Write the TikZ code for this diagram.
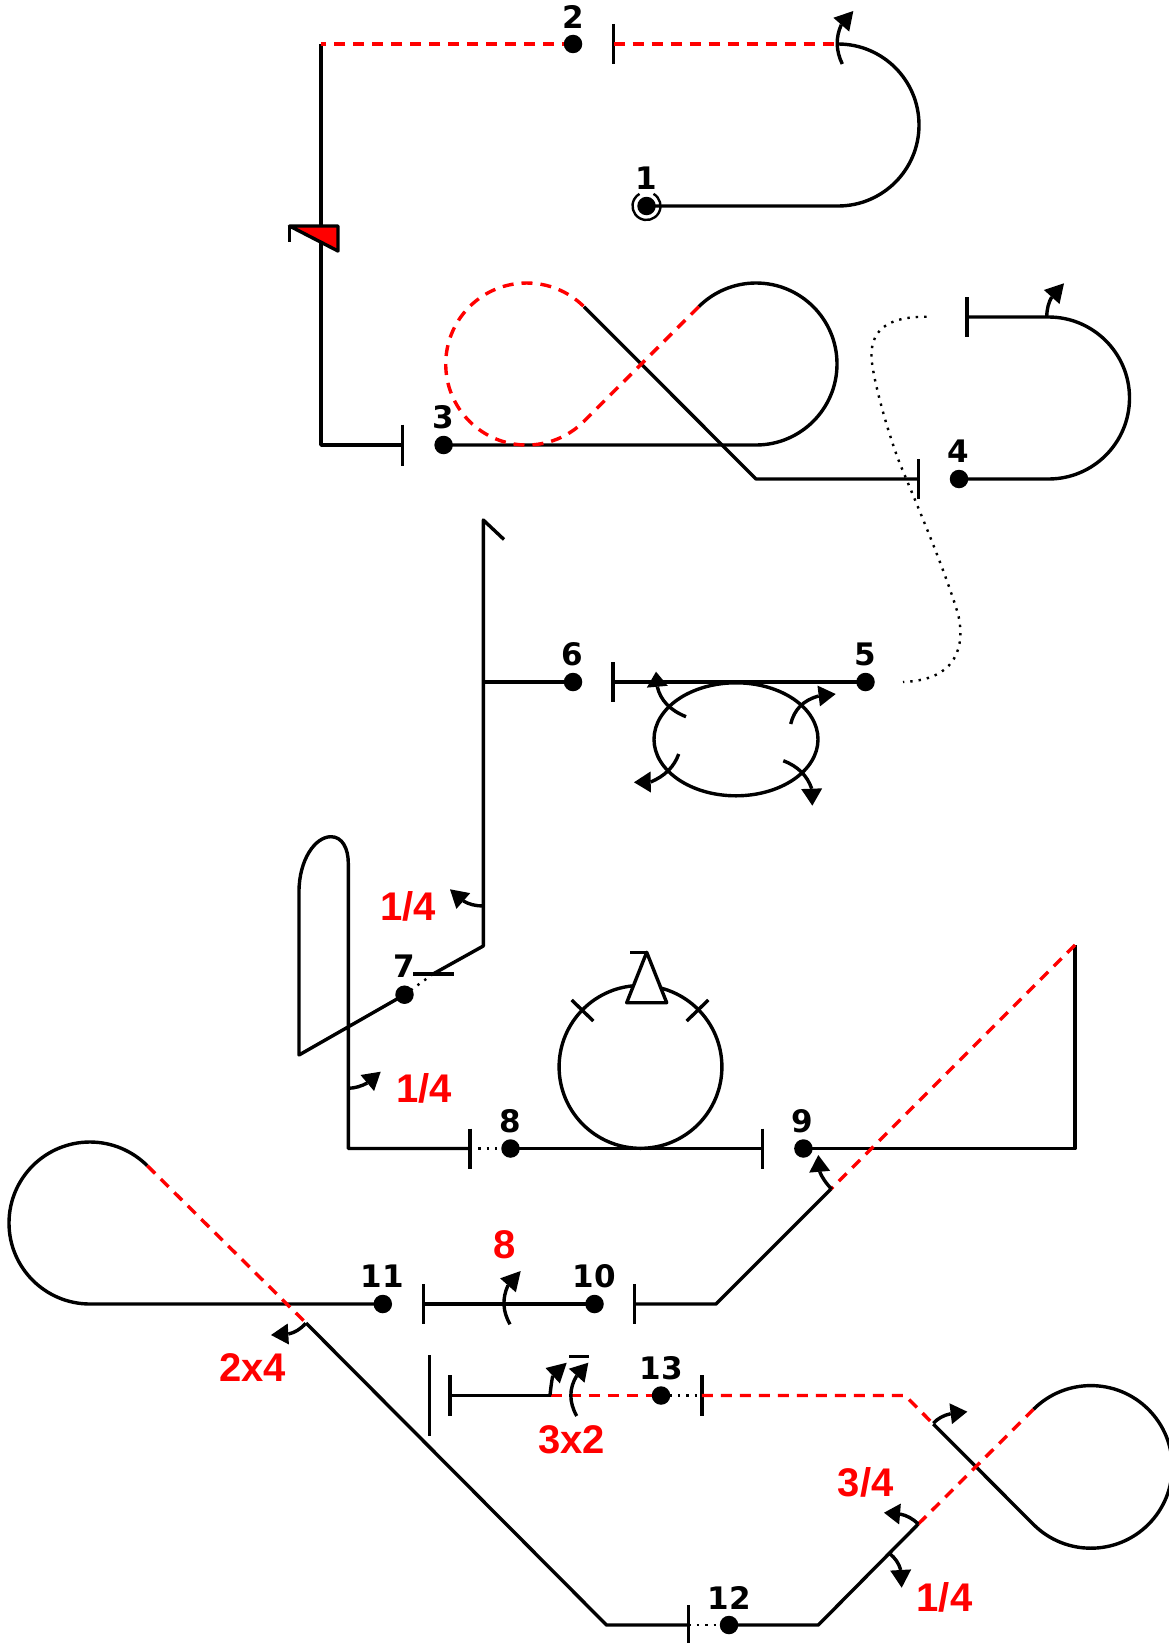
\documentclass[tikz,border=0pt]{standalone}
\usepackage{fontspec}
\setmainfont{Liberation Sans}
\newfontfamily\numfont{DejaVu Sans}
\usetikzlibrary{calc}
\definecolor{myred}{RGB}{255,0,0}
\tikzset{
  line/.style={line width=3.4pt,black,line cap=butt,line join=round},
  reddash/.style={line width=3.4pt,myred,dash pattern=on 11pt off 8pt},
  dots/.style={line width=2.4pt,black,dash pattern=on 2.4pt off 6pt},
  pt/.style={circle,fill=black,draw=none,minimum size=18.5pt,inner sep=0pt},
  num/.style={inner sep=0pt,font=\numfont\bfseries\fontsize{31}{31}\selectfont},
  redlab/.style={inner sep=0pt,text=myred,font=\bfseries\fontsize{40}{40}\selectfont},
}
% start, control, base of the head, tip
\newcommand{\qarr}[4]{%
  \draw[line] #1 .. controls ($#1!.667!#2$) and ($#3!.667!#2$) .. #3;
  \fill[black] #4 -- ($#3!10.5pt!90:#4$) -- ($#3!10.5pt!-90:#4$) -- cycle;}
\begin{document}
\begin{tikzpicture}[x=1pt,y=1pt,yscale=-1]
\useasboundingbox (0,0) rectangle (1168,1643);
% points
\coordinate (p1c) at (646.5,206);
\coordinate (p2c) at (573,44);
\coordinate (p3c) at (443.6,445);
\coordinate (p4c) at (959,479);
\coordinate (p5c) at (865.5,682);
\coordinate (p6c) at (573,682);
\coordinate (p7c) at (404.5,994.7);
\coordinate (p8c) at (510.5,1148.5);
\coordinate (p9c) at (803.4,1148.5);
\coordinate (p10c) at (594.5,1304);
\coordinate (p11c) at (382.8,1304);
\coordinate (p12c) at (729,1625);
\coordinate (p13c) at (661,1395.5);
% corners
\coordinate (a1) at (838,206);
\coordinate (a2) at (838,44);
\coordinate (t2) at (613.5,44);
\coordinate (c1) at (321,44);
\coordinate (c2) at (321,445);
\coordinate (t3) at (402.5,445);
\coordinate (b1) at (756,445);
\coordinate (b2) at (698.7,306.7);
\coordinate (b3) at (584,421.3);
\coordinate (b4) at (584,306.7);
\coordinate (b5) at (756,479);
\coordinate (t4) at (918.5,479);
\coordinate (d1) at (1048.5,479);
\coordinate (d2) at (1048.5,317);
\coordinate (t5) at (967,317);
\coordinate (t6) at (613,682);
\coordinate (e1) at (483.3,682);
\coordinate (e2) at (483.3,520);
\coordinate (e3) at (504,539.5);
\coordinate (e4) at (483.3,946);
\coordinate (t7) at (433,974);
\coordinate (g1) at (299,1055);
\coordinate (g2) at (299,891.7);
\coordinate (g3) at (348.3,863.3);
\coordinate (g4) at (348.3,1148.5);
\coordinate (t8) at (469.8,1148.5);
\coordinate (t9) at (762.5,1148.5);
\coordinate (h1) at (1075,1148.5);
\coordinate (h2) at (1075,945);
\coordinate (h3) at (831,1189);
\coordinate (h4) at (716,1304);
\coordinate (t10) at (634.5,1304);
\coordinate (t11) at (423.5,1304);
\coordinate (k1) at (90,1304);
\coordinate (k2) at (147.3,1165.7);
\coordinate (k3) at (306,1323);
\coordinate (k4) at (606.5,1625);
\coordinate (t12) at (688.5,1625);
\coordinate (m1) at (818.3,1625);
\coordinate (m2) at (918.3,1524);
\coordinate (m3) at (1033.4,1409.4);
\coordinate (m5) at (933.3,1424);
\coordinate (m6) at (905,1395.5);
\coordinate (t13) at (701.8,1395.5);
\coordinate (n1) at (550.7,1395.5);
\coordinate (t14) at (450,1395.5);
\coordinate (u1) at (429.3,1395.5);
% flag
\coordinate (f1) at (289.5,226);
\coordinate (f2) at (338,226);
\coordinate (f3) at (338,251);
% triangle
\coordinate (w1) at (646.7,952.3);
\coordinate (w2) at (626.7,1002.7);
\coordinate (w3) at (666.7,1002.7);
% black lines
\draw[line] (p1c) -- (a1) arc[start angle=90,end angle=-90,radius=81pt];
\draw[line] (t14) -- (n1);
\draw[line] (c1) -- (c2) -- (t3);
\draw[line] (p3c) -- (b1) arc[start angle=90,end angle=-135,radius=81pt];
\draw[line] (b4) -- (b5) -- (t4);
\draw[line] (p4c) -- (d1) arc[start angle=90,end angle=-90,radius=81pt] -- (t5);
\draw[line] (p5c) -- (t6);
\draw[line] (e3) -- (e2) -- (e4) -- (t7);
\draw[line] (p6c) -- (e1);
\draw[line] (p7c) -- (g1) -- (g2) .. controls (299,860) and (315,836.7) .. (331,836.7) .. controls (342,836.7) and (348.3,848) .. (g3) -- (g4) -- (t8);
\draw[line] (p8c) -- (t9);
\draw[line] (p9c) -- (h1) -- (h2);
\draw[line] (h3) -- (h4) -- (t10);
\draw[line] (p10c) -- (t11);
\draw[line] (p11c) -- (k1) arc[start angle=90,end angle=315,radius=81pt];
\draw[line] (k3) -- (k4) -- (t12);
\draw[line] (p12c) -- (m1) -- (m2);
\draw[line] (m3) arc[start angle=-135,end angle=135,radius=81.3pt] -- (m5);
% ticks
\draw[line] (t2) ++(0,-20) -- ++(0,40);
\draw[line] (t3) ++(0,-20.5) -- ++(0,41);
\draw[line] (t4) ++(0,-20) -- ++(0,40);
\draw[line] (t5) ++(0,-20) -- ++(0,40);
\draw[line] (t6) ++(0,-20) -- ++(0,40);
\draw[line] (t7) ++(-20,0) -- ++(41,0);
\draw[line] (t8) ++(0,-20) -- ++(0,40);
\draw[line] (t9) ++(0,-20) -- ++(0,40);
\draw[line] (t10) ++(0,-20) -- ++(0,40);
\draw[line] (t11) ++(0,-20) -- ++(0,40);
\draw[line] (t12) ++(0,-20) -- ++(0,40);
\draw[line] (t13) ++(0,-20.5) -- ++(0,41);
\draw[line] (t14) ++(0,-20.5) -- ++(0,41);
\draw[line] (u1) ++(0,-40.3) -- ++(0,80.6);
% red dashed
\draw[reddash] (p2c) -- (c1);
\draw[reddash] (t2) -- (a2);
\draw[reddash] (b2) -- (b3) arc[start angle=45,end angle=315,radius=81pt];
\draw[reddash] (h2) -- (h3);
\draw[reddash] (k2) -- (k3);
\draw[reddash] (n1) -- (p13c);
\draw[reddash] (t13) -- (m6) -- (m5);
\draw[reddash] (m2) -- (m3);
% dotted
\draw[dots] (926.5,316.7) .. controls (895,316.7) and (870,325) .. (871.5,358) .. controls (872.5,375) and (885,425) .. (900,464) .. controls (915,500) and (945,570) .. (958.3,615) .. controls (965,645) and (958,680) .. (903,682);
\draw[dots] (t7) -- (p7c);
\draw[dots] (t8) -- (p8c);
\draw[dots] (t12) -- (p12c);
\draw[dots] (p13c) -- (t13);
% ellipse and circle
\draw[line] (736,739.3) ellipse[x radius=82pt,y radius=56.5pt];
\draw[line] (640.5,1066.9) circle[radius=81.4pt];
\draw[line,fill=white] (w1) -- (w2) -- (w3) -- cycle;
\draw[line] (w1) -- (630,952.3);
\draw[line] (571.7,1000) -- (593.3,1021);
\draw[line] (708.3,1000) -- (686.7,1021);
\draw[line] (569.3,1356.3) -- (589.3,1356.3);
% flag
\draw[line,fill=myred] (f1) -- (f2) -- (f3) -- cycle;
\draw[line] (f1) -- (289.5,242);
% dots
\node[pt] (p1) at (p1c) {};
\draw[line width=2.4pt] (p1c) ++(-60:14pt) arc[start angle=-60,end angle=240,radius=14pt];
\node[pt] (p2) at (p2c) {};
\node[pt] (p3) at (p3c) {};
\node[pt] (p4) at (p4c) {};
\node[pt] (p5) at (p5c) {};
\node[pt] (p6) at (p6c) {};
\node[pt] (p7) at (p7c) {};
\node[pt] (p8) at (p8c) {};
\node[pt] (p9) at (p9c) {};
\node[pt] (p10) at (p10c) {};
\node[pt] (p11) at (p11c) {};
\node[pt] (p12) at (p12c) {};
\node[pt] (p13) at (p13c) {};
% number labels
\node[num] (l1) at (646.5,178.5) {1};
\node[num] (l2) at (573,17) {2};
\node[num] (l3) at (443.2,417) {3};
\node[num] (l4) at (958.5,451.5) {4};
\node[num] (l5) at (865,654.5) {5};
\node[num] (l6) at (572.5,654.5) {6};
\node[num] (l7) at (404.5,966) {7};
\node[num] (l8) at (510,1121.7) {8};
\node[num] (l9) at (802.5,1121) {9};
\node[num] (l10) at (594.5,1276.5) {10};
\node[num] (l11) at (382.5,1276.5) {11};
\node[num] (l12) at (729.5,1597.5) {12};
\node[num] (l13) at (661,1368) {13};
% red labels
\node[redlab] (r1) at (408.3,906.5) {1/4};
\node[redlab] (r2) at (424,1088.2) {1/4};
\node[redlab] (r3) at (504.5,1245) {8};
\node[redlab] (r4) at (252.5,1368) {2x4};
\node[redlab] (r5) at (571.5,1439.5) {3x2};
\node[redlab] (r6) at (865.7,1482.7) {3/4};
\node[redlab] (r7) at (944.5,1597) {1/4};
% arrows
\qarr{(842.3,64)}{(832.6,44)}{(841.3,24.7)}{(853.3,11)}
\qarr{(1046.7,316.7)}{(1047,305)}{(1051.7,297)}{(1064,283.3)}
\qarr{(686,716.7)}{(662,707)}{(657.3,686.7)}{(656,671.7)}
\qarr{(790.7,724)}{(796,702)}{(818.7,696)}{(835.7,694)}
\qarr{(678.7,754)}{(672,773)}{(650.7,782)}{(634,782.3)}
\qarr{(783.3,760.7)}{(805,769)}{(811.7,788.7)}{(812.3,805.7)}
\qarr{(483.3,906)}{(472,906)}{(463.3,901)}{(450,889.3)}
\qarr{(348.3,1088.3)}{(358,1088)}{(367.3,1083)}{(380.7,1071.7)}
\qarr{(831.7,1189.3)}{(823,1180)}{(819.7,1171.7)}{(818.3,1155)}
\qarr{(510,1324.3)}{(499,1305)}{(508,1285.3)}{(520.7,1271)}
\qarr{(305.7,1323.3)}{(298,1332)}{(288.3,1334)}{(271,1335)}
\qarr{(550,1395.3)}{(551,1385)}{(552.7,1375.7)}{(566.7,1362.7)}
\qarr{(576.7,1416)}{(565,1395)}{(576.7,1375.7)}{(588.3,1362.7)}
\qarr{(933.3,1423.3)}{(940,1416)}{(950.7,1413.7)}{(967.3,1411.7)}
\qarr{(918.3,1524)}{(910,1516)}{(900,1514)}{(884,1512.7)}
\qarr{(889.3,1553.3)}{(898,1560)}{(900.7,1570)}{(901.7,1587.7)}
\end{tikzpicture}
\end{document}
